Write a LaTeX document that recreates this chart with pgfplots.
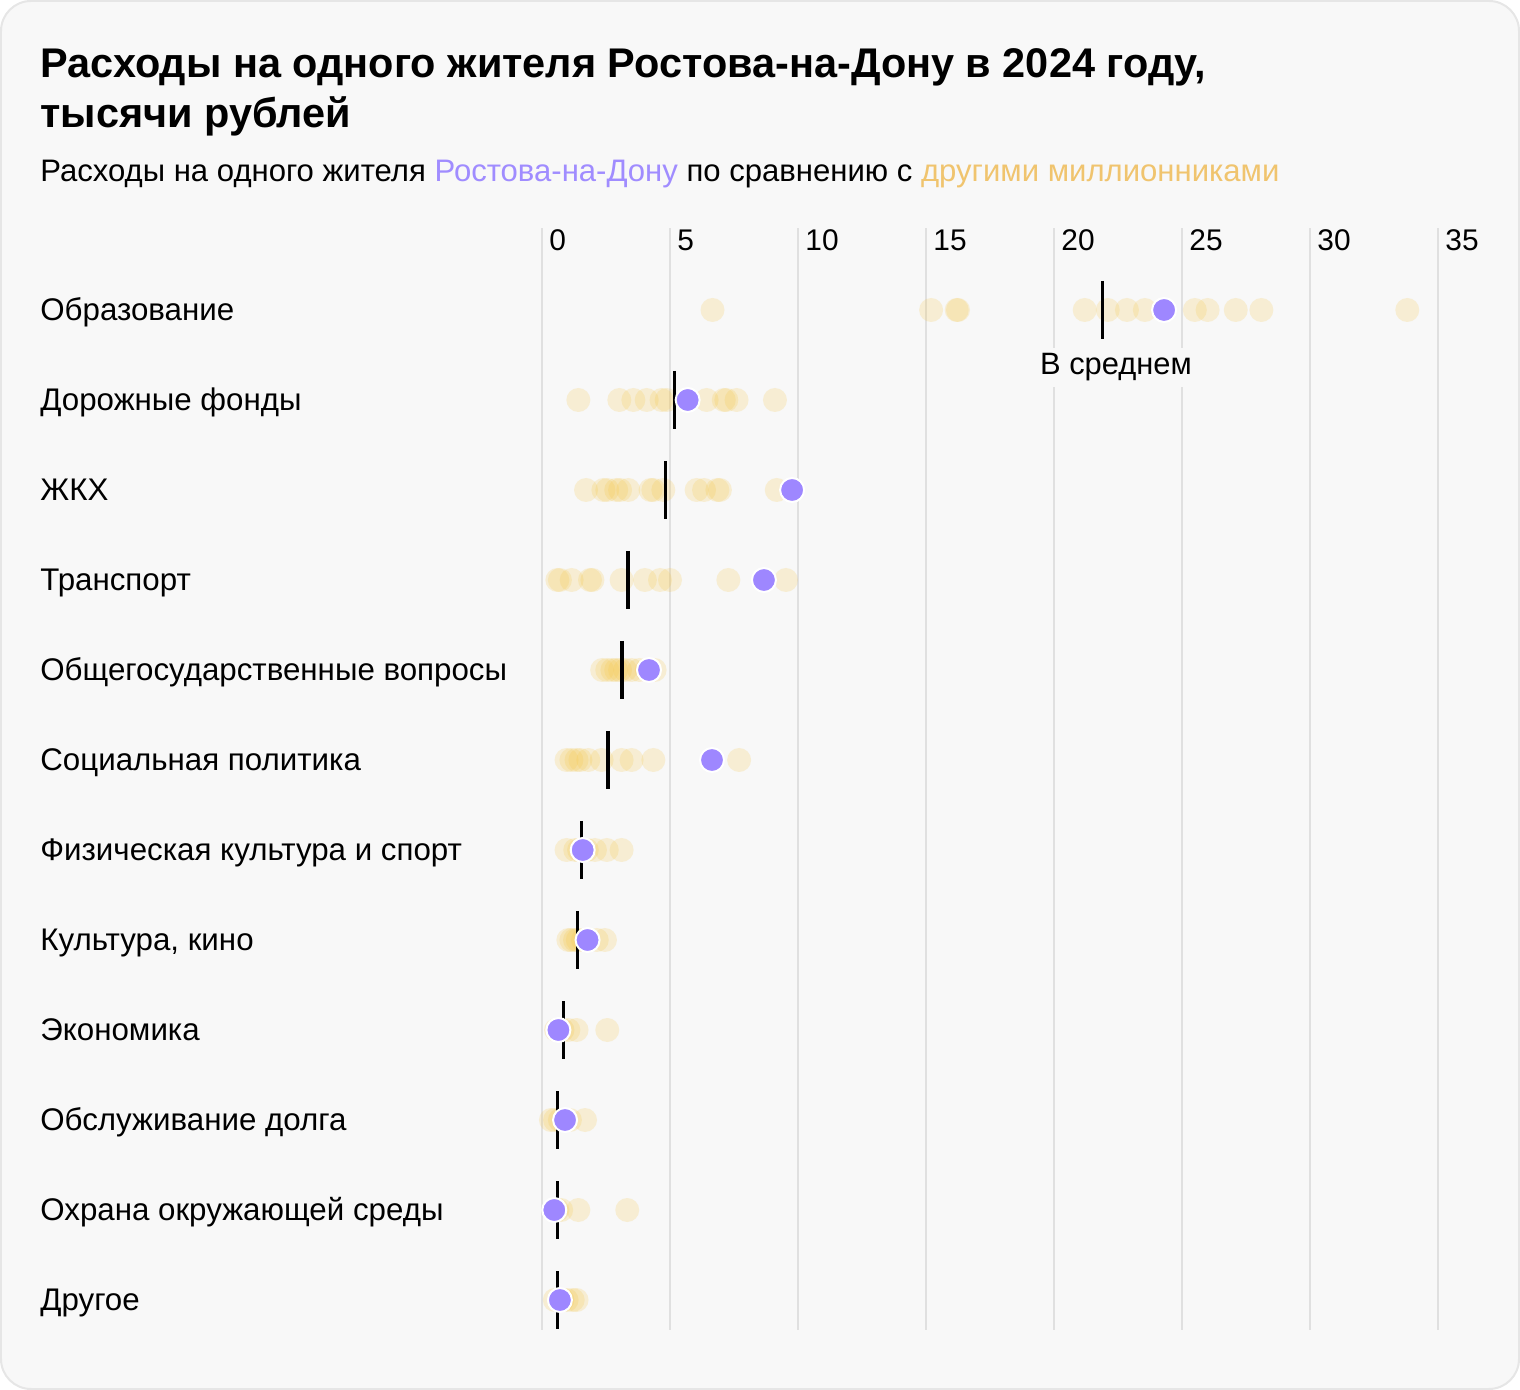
\documentclass[border=0pt]{standalone}
\usepackage{fontspec}
\setmainfont{Liberation Sans}
\usepackage{pgfplots}
\pgfplotsset{compat=1.18}
\definecolor{bg}{HTML}{F8F8F8}
\definecolor{borderc}{HTML}{E6E6E6}
\definecolor{gridc}{HTML}{E0E0E0}
\definecolor{cyel}{HTML}{F5C542}
\definecolor{cpur}{HTML}{9E87FF}
\definecolor{tpur}{HTML}{A08CFF}
\definecolor{tyel}{HTML}{F0C46E}
\begin{document}
\begin{tikzpicture}
\fill[bg, draw=borderc, line width=1bp, rounded corners=15bp] (0.5bp,0.5bp) rectangle (759.5bp,694.5bp);
\node[anchor=base west, inner sep=0pt] at (20bp,656bp) {\fontsize{20.8}{25}\selectfont\bfseries Расходы на одного жителя Ростова-на-Дону в 2024 году,};
\node[anchor=base west, inner sep=0pt] at (20bp,631bp) {\fontsize{20.8}{25}\selectfont\bfseries тысячи рублей};
\node[anchor=base west, inner sep=0pt] at (20bp,604bp) {\fontsize{15.6}{18}\selectfont Расходы на одного жителя \textcolor{tpur}{Ростова-на-Дону} по сравнению с \textcolor{tyel}{другими миллионниками}};
\begin{axis}[
  at={(245.4bp,581bp)}, anchor=north west,
  x=12.8bp, y=45bp, y dir=reverse,
  xmin=-2, xmax=37, ymin=0.089, ymax=12.333,
  clip=false,
  axis line style={draw=none},
  major tick length=0pt,
  xtick={0,5,...,35},
  xticklabel pos=upper,
  xmajorgrids,
  grid style={draw=gridc, line width=1bp},
  /pgf/number format/assume math mode=true,
  xticklabel style={font=\fontsize{15}{18}\selectfont, anchor=base west, inner sep=0pt, xshift=3.5bp, yshift=-11bp},
  ytick={1,...,12},
  yticklabels={Образование, Дорожные фонды, ЖКХ, Транспорт, Общегосударственные вопросы, Социальная политика, Физическая культура и спорт, {Культура, кино}, Экономика, Обслуживание долга, Охрана окружающей среды, Другое},
  yticklabel style={font=\fontsize{15.7}{18}\selectfont, anchor=base west, inner sep=0pt, xshift=-225.4bp, yshift=-5.2bp},
  every axis plot/.append style={only marks},
]
\pgfplotsset{yel/.style={mark=*, mark size=6bp, mark options={draw=cyel, draw opacity=0, line width=0pt, fill=cyel, fill opacity=0.2}}}
% other millionaire cities
\addplot[yel] coordinates {(6.66,1) (15.2,1) (16.2,1) (16.25,1) (21.2,1) (22.1,1) (22.85,1) (23.55,1) (25.5,1) (26.0,1) (27.1,1) (28.1,1) (33.8,1)};
\addplot[yel] coordinates {(1.42,2) (3.02,2) (3.57,2) (4.09,2) (4.67,2) (4.87,2) (6.43,2) (7.1,2) (7.2,2) (7.6,2) (9.1,2)};
\addplot[yel] coordinates {(1.72,3) (2.40,3) (2.55,3) (2.9,3) (3.05,3) (3.37,3) (4.24,3) (4.35,3) (4.74,3) (6.04,3) (6.33,3) (6.85,3) (6.95,3) (9.17,3)};
\addplot[yel] coordinates {(0.60,4) (0.70,4) (1.16,4) (1.875,4) (1.97,4) (3.11,4) (4.02,4) (4.61,4) (5.0,4) (7.28,4) (9.53,4)};
\addplot[yel] coordinates {(2.35,5) (2.55,5) (2.75,5) (2.9,5) (3.05,5) (3.25,5) (3.5,5) (3.8,5) (4.1,5) (4.4,5)};
\addplot[yel] coordinates {(0.96,6) (1.15,6) (1.35,6) (1.5,6) (1.81,6) (2.33,6) (3.11,6) (3.5,6) (4.35,6) (7.70,6)};
\addplot[yel] coordinates {(0.96,7) (1.3,7) (1.45,7) (1.61,7) (1.75,7) (2.07,7) (2.53,7) (3.11,7)};
\addplot[yel] coordinates {(1.03,8) (1.15,8) (1.29,8) (1.4,8) (1.6,8) (2.14,8) (2.46,8)};
\addplot[yel] coordinates {(0.55,9) (0.64,9) (0.8,9) (1.03,9) (1.35,9) (2.55,9)};
\addplot[yel] coordinates {(0.35,10) (0.51,10) (0.7,10) (0.85,10) (1.09,10) (1.68,10)};
\addplot[yel] coordinates {(0.6,11) (0.75,11) (1.42,11) (3.33,11)};
\addplot[yel] coordinates {(0.5,12) (0.8,12) (0.96,12) (1.2,12) (1.35,12)};
% average
\addplot[mark=|, mark size=14.5bp, mark options={draw=black, line width=1.6bp}] coordinates {
(21.9,1) (5.16,2) (4.83,3) (3.36,4) (3.125,5) (2.58,6) (1.55,7) (1.39,8) (0.83,9) (0.61,10) (0.61,11) (0.61,12)};
% Rostov-on-Don
\addplot[mark=*, mark size=6bp, mark options={draw=white, line width=1bp, fill=cpur}] coordinates {
(24.3,1) (5.69,2) (9.77,3) (8.67,4) (4.18,5) (6.64,6) (1.59,7) (1.78,8) (0.64,9) (0.90,10) (0.48,11) (0.70,12)};
\end{axis}
\node[anchor=base, fill=bg, inner sep=3bp] at (558bp,507.5bp) {\fontsize{15.5}{18}\selectfont В среднем};
\end{tikzpicture}
\end{document}
